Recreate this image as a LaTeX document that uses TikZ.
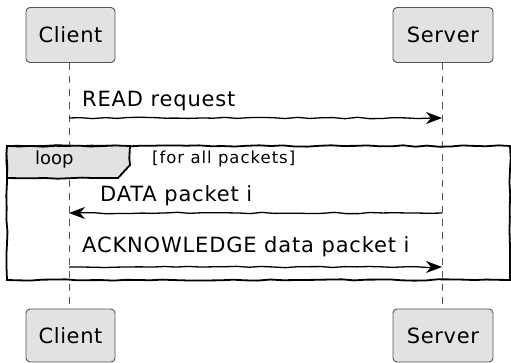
\documentclass[tikz,border=0pt]{standalone}
\usepackage{fontspec}
\setmainfont{DejaVu Sans}
\usetikzlibrary{arrows.meta,decorations.pathmorphing}
\definecolor{boxfill}{HTML}{E2E2E2}
\definecolor{boxline}{HTML}{555555}
\definecolor{lifeline}{HTML}{555555}
\tikzset{
  part/.style={draw=boxline, fill=boxfill, line width=0.9pt, rounded corners=4pt,
    minimum height=55pt, inner sep=0pt, font=\fontsize{21}{24}\selectfont\addfontfeatures{LetterSpace=3}},
  life/.style={draw=lifeline, line width=0.8pt, dash pattern=on 7pt off 6pt},
  wobble/.style={decorate, decoration={random steps, segment length=12pt, amplitude=0.7pt}},
  msgline/.style={line width=1.3pt},
  msghead/.style={line width=1.3pt, -{Stealth[length=16pt,width=12pt,inset=5pt]}},
  msgtext/.style={anchor=base west, inner sep=0pt, font=\fontsize{21}{24}\selectfont\addfontfeatures{LetterSpace=4}},
  framel/.style={line width=1.8pt},
}
\begin{document}
\begin{tikzpicture}[x=1pt,y=-1pt]
\pgfmathsetseed{7}
\useasboundingbox (0,0) rectangle (511,363);
% participants
\node[part, minimum width=89pt] (c1) at (70.5,35) {Client};
\node[part, minimum width=100pt] (s1) at (443,35) {Server};
\node[part, minimum width=89pt, minimum height=53pt] (c2) at (70.5,335.5) {Client};
\node[part, minimum width=100pt, minimum height=53pt] (s2) at (443,335.5) {Server};
% lifelines
\draw[life] ([xshift=-1.5pt]c1.south) -- ([xshift=-1.5pt]c2.north);
\draw[life] ([xshift=-1pt]s1.south) -- ([xshift=-1pt]s2.north);
% loop frame
\draw[framel, wobble] (7,146) -- (510,146) -- (510,280) -- (7,280) -- cycle;
\node[coordinate] (tabA) at (7,146) {};
\node[coordinate] (tabB) at (130,146) {};
\node[coordinate] (tabC) at (130,165) {};
\node[coordinate] (tabD) at (118,178) {};
\node[coordinate] (tabE) at (7,178) {};
\draw[framel, fill=boxfill, wobble] (tabA) -- (tabB) -- (tabC) -- (tabD) -- (tabE) -- cycle;
\node[anchor=base west, inner sep=0pt, font=\fontsize{18}{20}\selectfont] (looplbl) at (35,165) {loop};
\node[anchor=base west, inner sep=0pt, font=\fontsize{16.5}{19}\selectfont\addfontfeatures{LetterSpace=6}] (cond) at (152,164) {[for all packets]};
% messages
\node[coordinate] (m1a) at (69,118) {};
\node[coordinate] (m1b) at (442,118) {};
\draw[msgline, wobble] (m1a) -- ([xshift=-6pt]m1b);
\draw[msghead] ([xshift=-8pt]m1b) -- (m1b);
\node[msgtext] (t1) at (82,107) {READ request};
\node[coordinate] (m2a) at (442,213) {};
\node[coordinate] (m2b) at (69,213) {};
\draw[msgline, wobble] (m2a) -- ([xshift=6pt]m2b);
\draw[msghead] ([xshift=8pt]m2b) -- (m2b);
\node[msgtext] (t2) at (100,202) {DATA packet i};
\node[coordinate] (m3a) at (69,267) {};
\node[coordinate] (m3b) at (442,267) {};
\draw[msgline, wobble] (m3a) -- ([xshift=-6pt]m3b);
\draw[msghead] ([xshift=-8pt]m3b) -- (m3b);
\node[msgtext] (t3) at (82,253) {ACKNOWLEDGE data packet i};
\end{tikzpicture}
\end{document}
